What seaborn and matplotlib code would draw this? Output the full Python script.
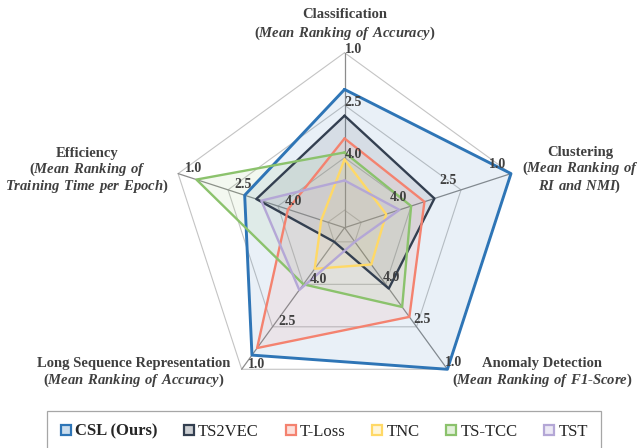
import numpy as np
import pandas as pd
import matplotlib
matplotlib.use("Agg")
import matplotlib.pyplot as plt
from matplotlib.lines import Line2D
from matplotlib.patches import Rectangle
import seaborn as sns

# Mean rankings (1 = best, outer ring)
tasks = ["Classification", "Clustering", "Anomaly Detection",
         "Long Sequence Representation", "Efficiency"]
methods = ["CSL (Ours)", "TS2VEC", "T-Loss", "TNC", "TS-TCC", "TST"]
csl = [2.05, 1.0, 1.0, 1.5, 3.0]
ts2vec = [2.8, 3.3, 3.85, 5.5, 3.35]
tloss = [3.45, 3.6, 2.85, 1.75, 4.3]
tnc = [4.05, 4.75, 4.7, 4.55, 5.3]
tstcc = [3.85, 4.0, 3.2, 4.0, 1.55]
tst = [4.65, 4.35, 5.5, 3.8, 3.5]
ring_values = [1.0, 2.5, 4.0, 5.5]
tick_values = [1.0, 2.5, 4.0]
colors = ["#2E75B6", "#333F50", "#F4826F", "#FFD966", "#8BC26C", "#B4A7D6"]

sns.set_theme(style="white")
plt.rcParams["font.family"] = ["Liberation Serif", "DejaVu Serif"]
plt.rcParams["mathtext.fontset"] = "custom"
plt.rcParams["mathtext.bfit"] = "Liberation Serif:bold:italic"
plt.rcParams["mathtext.rm"] = "Liberation Serif:bold"

all_vals = [csl, ts2vec, tloss, tnc, tstcc, tst]
theta = np.linspace(0, 2 * np.pi, len(tasks), endpoint=False)
theta_closed = np.append(theta, 2 * np.pi)

rows = []
for m, vals in zip(methods, all_vals):
    for t, v in zip(theta_closed, vals + vals[:1]):
        rows.append({"method": m, "theta": t, "rank": v})
df = pd.DataFrame(rows)

fig = plt.figure(figsize=(6.4, 4.48), dpi=100)
ax = fig.add_axes([0.2649, 0.1011, 0.5469, 0.7813], projection="polar")
ax.set_theta_offset(np.pi / 2)
ax.set_theta_direction(-1)

# pentagon grid and spokes
for v in ring_values:
    ax.plot(theta_closed, [v] * len(theta_closed), color="#C4C4C4", lw=0.8, zorder=0, clip_on=False)
for t in theta:
    ax.plot([t, t], [6, 1], color="#8C8C8C", lw=0.9, zorder=0, clip_on=False)

for m, vals, c in zip(methods, all_vals, colors):
    ax.fill(theta_closed, vals + vals[:1], color=c, alpha=0.1, lw=0, zorder=1)

sns.lineplot(data=df, x="theta", y="rank", hue="method", hue_order=methods,
             palette=colors, sort=False, estimator=None, legend=False,
             linewidth=1.7, ax=ax, zorder=3)
for ln in ax.get_lines():
    ln.set_clip_on(False)
    if matplotlib.colors.to_hex(ln.get_color()).lower() == colors[0].lower():
        ln.set_linewidth(2.1)

ax.set_rlim(6, 1)
ax.grid(False)
ax.spines["polar"].set_visible(False)
ax.set_xticks([])
ax.set_yticks([])
ax.set_xlabel("")
ax.set_ylabel("")
ax.set_facecolor("none")

# value labels on each spoke
offsets = [(9, 3), (-13, 9), (6, 7), (15, 5), (15, 5)]
for t, off in zip(theta, offsets):
    for v in tick_values:
        ax.annotate(f"{v:.1f}", xy=(t, v), xytext=off, textcoords="offset pixels",
                    ha="center", va="center", fontsize=10, fontweight="bold",
                    color="#404040", annotation_clip=False, zorder=5)

# task titles
title_kw = dict(ha="center", va="center", multialignment="center",
                fontsize=10.5, fontweight="bold", color="#404040")
# three-line blocks (x centre, y centre of block)
for x, y, lines in [
    (580, 170.5, ["Clustering", r"($\mathbfit{Mean\ Ranking\ of}$",
                  r"$\mathbfit{RI\ and\ NMI}$)"]),
    (87, 171, ["Efficiency", r"($\mathbfit{Mean\ Ranking\ of}$",
               r"$\mathbfit{Training\ Time\ per\ Epoch}$)"]),
]:
    fig.text(x / 640, 1 - y / 448, "\n".join(lines), linespacing=1.05, **title_kw)
# two-line titles, one text per line
for x, ys, lines in [
    (345, [15, 33], ["Classification", r"($\mathbfit{Mean\ Ranking\ of\ Accuracy}$)"]),
    (542, [363, 380], ["Anomaly Detection",
                       r"($\mathbfit{Mean\ Ranking\ of\ F1}$-$\mathbfit{Score}$)"]),
    (134, [363, 380], ["Long Sequence Representation",
                       r"($\mathbfit{Mean\ Ranking\ of\ Accuracy}$)"]),
]:
    for y, s in zip(ys, lines):
        fig.text(x / 640, 1 - y / 448, s, **title_kw)

handles = []
for c in colors:
    rgb = np.array(matplotlib.colors.to_rgb(c))
    handles.append(Line2D([], [], ls="none", marker="s", markersize=7,
                          markerfacecolor=rgb * 0.25 + 0.75,
                          markeredgecolor=c, markeredgewidth=1.6))
leg = fig.legend(handles, methods, loc="center", bbox_to_anchor=(0.506, 0.036),
                 ncol=6, frameon=False, fontsize=12, handlelength=0.7,
                 handletextpad=0.2, columnspacing=1.55, borderpad=0.75)
leg.get_texts()[0].set_fontweight("bold")
fig.patches.append(Rectangle((47 / 640, -0.02), (601 - 47) / 640, (448 - 411) / 448 + 0.02,
                             transform=fig.transFigure, fill=False,
                             edgecolor="#A6A6A6", lw=0.9))

fig.savefig("out.png", dpi=100)
